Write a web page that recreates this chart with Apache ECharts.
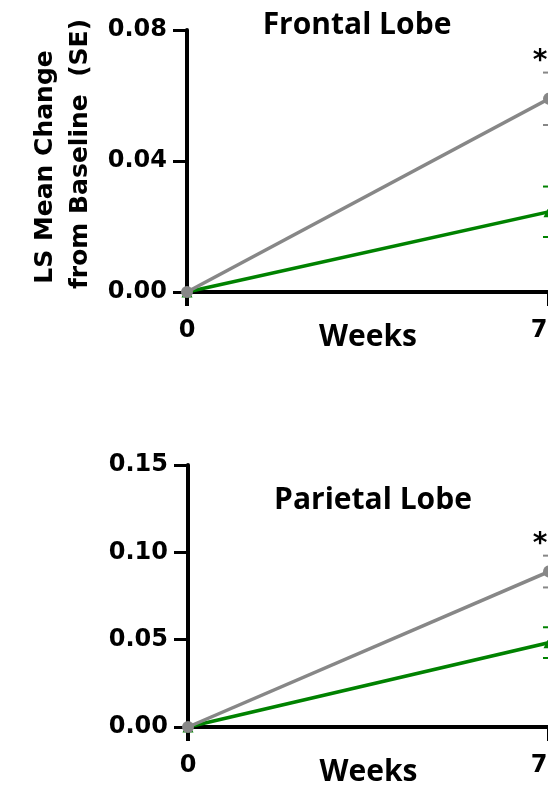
<!DOCTYPE html>
<html>
<head>
<meta charset="utf-8">
<script src="https://cdn.jsdelivr.net/npm/echarts@6/dist/echarts.min.js"></script>
<style>
  html, body { margin: 0; padding: 0; background: #fff; }
  #chart { width: 548px; height: 785px; }
</style>
</head>
<body>
<div id="chart"></div>
<script>
// Weeks on the x axis
const weeks = [0, 7];

// Frontal lobe: LS mean change from baseline and its SE
const frontalGrey = [0, 0.059];
const frontalGreySE = [0, 0.0080];
const frontalGreen = [0, 0.0245];
const frontalGreenSE = [0, 0.0077];

// Parietal lobe
const parietalGrey = [0, 0.089];
const parietalGreySE = [0, 0.0091];
const parietalGreen = [0, 0.0483];
const parietalGreenSE = [0, 0.0088];

// Significance flag per week (drawn as an asterisk above the grey bar)
const frontalStar = [false, true];
const parietalStar = [false, true];

// Y axis ticks per panel
const frontalYTicks = [0, 0.04, 0.08];
const parietalYTicks = [0, 0.05, 0.10, 0.15];

const GREY = '#878787';
const GREEN = '#008200';
const NUM_FONT = 'DejaVu Sans';
const TITLE_FONT = 'Open Sans';

const chart = echarts.init(document.getElementById('chart'), null, { renderer: 'canvas' });

function pairs(xs, ys) { return xs.map((x, i) => [x, ys[i]]); }

function errorData(xs, ys, se, star) {
  return xs.map((x, i) => [x, ys[i], se[i], star ? (star[i] ? 1 : 0) : 0]);
}

// Error bars with caps; an asterisk marks significant weeks
function errorSeries(gridIdx, data, color) {
  return {
    type: 'custom',
    xAxisIndex: gridIdx,
    yAxisIndex: gridIdx,
    z: 3,
    clip: false,
    data: data,
    renderItem: function (params, api) {
      const x = api.value(0), m = api.value(1), s = api.value(2), star = api.value(3);
      if (s <= 0) return null;
      const hi = api.coord([x, m + s]);
      const lo = api.coord([x, m - s]);
      const cap = 6;
      const style = { stroke: color, lineWidth: 2 };
      const children = [
        { type: 'line', shape: { x1: hi[0], y1: hi[1], x2: lo[0], y2: lo[1] }, style: style },
        { type: 'line', shape: { x1: hi[0] - cap, y1: hi[1], x2: hi[0] + cap, y2: hi[1] }, style: style },
        { type: 'line', shape: { x1: lo[0] - cap, y1: lo[1], x2: lo[0] + cap, y2: lo[1] }, style: style }
      ];
      if (star) {
        children.push({
          type: 'text',
          style: {
            text: '*', x: hi[0] - 9, y: hi[1] + 3,
            align: 'center', verticalAlign: 'bottom',
            font: 'bold 28px "' + NUM_FONT + '"', fill: '#000'
          }
        });
      }
      return { type: 'group', children: children };
    }
  };
}

function lineSeries(gridIdx, data, color, symbol, size, z) {
  return {
    type: 'line',
    xAxisIndex: gridIdx,
    yAxisIndex: gridIdx,
    data: data,
    symbol: symbol,
    symbolSize: size,
    showSymbol: true,
    clip: false,
    z: z,
    lineStyle: { color: color, width: 3.5 },
    itemStyle: { color: color, borderWidth: 0 },
    emphasis: { disabled: true },
    animation: false
  };
}

function xAxisFor(gridIdx) {
  return {
    type: 'value',
    gridIndex: gridIdx,
    min: weeks[0],
    max: weeks[weeks.length - 1],
    interval: 7,
    splitLine: { show: false },
    axisLine: { show: true, onZero: false, lineStyle: { color: '#000', width: 4 } },
    axisTick: { show: true, length: 14, lineStyle: { color: '#000', width: 4 } },
    axisLabel: {
      margin: 27,
      showMaxLabel: true,
      formatter: function (v) {
        if (v === 7) return '{r|7}';
        return String(v);
      },
      rich: { r: { padding: [0, 20, 0, 0], fontFamily: NUM_FONT, fontWeight: 'bold', fontSize: 24, color: '#000' } },
      fontFamily: NUM_FONT, fontWeight: 'bold', fontSize: 24, color: '#000'
    },
    name: 'Weeks',
    nameLocation: 'middle',
    nameGap: 30,
    nameMoveOverlap: false,
    nameTextStyle: { fontFamily: TITLE_FONT, fontWeight: 'bold', fontSize: 30, color: '#000' }
  };
}

function yAxisFor(gridIdx, ticks) {
  const step = ticks[1] - ticks[0];
  return {
    type: 'value',
    gridIndex: gridIdx,
    min: ticks[0],
    max: ticks[ticks.length - 1],
    interval: step,
    splitLine: { show: false },
    axisLine: { show: true, lineStyle: { color: '#000', width: 4 } },
    axisTick: { show: true, length: 14, lineStyle: { color: '#000', width: 3 } },
    axisLabel: {
      margin: 20,
      fontFamily: NUM_FONT, fontWeight: 'bold', fontSize: 24, color: '#000',
      formatter: function (v) { return v.toFixed(2); }
    }
  };
}

const option = {
  animation: false,
  backgroundColor: '#fff',
  grid: [
    { left: 187, top: 30, right: -1, height: 262, outerBoundsMode: 'none', containLabel: false },
    { left: 188, top: 465, right: -1, height: 262, outerBoundsMode: 'none', containLabel: false }
  ],
  xAxis: [xAxisFor(0), xAxisFor(1)],
  yAxis: [yAxisFor(0, frontalYTicks), yAxisFor(1, parietalYTicks)],
  graphic: [
    { type: 'text', x: 357, y: 25, style: { text: 'Frontal Lobe', align: 'center', verticalAlign: 'middle',
      font: 'bold 30px "' + TITLE_FONT + '"', fill: '#000' } },
    { type: 'text', x: 373, y: 500, style: { text: 'Parietal Lobe', align: 'center', verticalAlign: 'middle',
      font: 'bold 30px "' + TITLE_FONT + '"', fill: '#000' } },
    { type: 'text', x: 45, y: 167, rotation: Math.PI / 2, style: { text: 'LS Mean Change', align: 'center', verticalAlign: 'middle',
      font: 'bold 25px "' + NUM_FONT + '"', fill: '#000' } },
    { type: 'text', x: 80, y: 154, rotation: Math.PI / 2, style: { text: 'from Baseline  (SE)', align: 'center', verticalAlign: 'middle',
      font: 'bold 25px "' + NUM_FONT + '"', fill: '#000' } }
  ],
  series: [
    errorSeries(0, errorData(weeks, frontalGreen, frontalGreenSE), GREEN),
    errorSeries(0, errorData(weeks, frontalGrey, frontalGreySE, frontalStar), GREY),
    lineSeries(0, pairs(weeks, frontalGreen), GREEN, 'triangle', 11, 4),
    lineSeries(0, pairs(weeks, frontalGrey), GREY, 'circle', 12, 5),
    errorSeries(1, errorData(weeks, parietalGreen, parietalGreenSE), GREEN),
    errorSeries(1, errorData(weeks, parietalGrey, parietalGreySE, parietalStar), GREY),
    lineSeries(1, pairs(weeks, parietalGreen), GREEN, 'triangle', 11, 4),
    lineSeries(1, pairs(weeks, parietalGrey), GREY, 'circle', 12, 5)
  ]
};

chart.setOption(option);
</script>
</body>
</html>
